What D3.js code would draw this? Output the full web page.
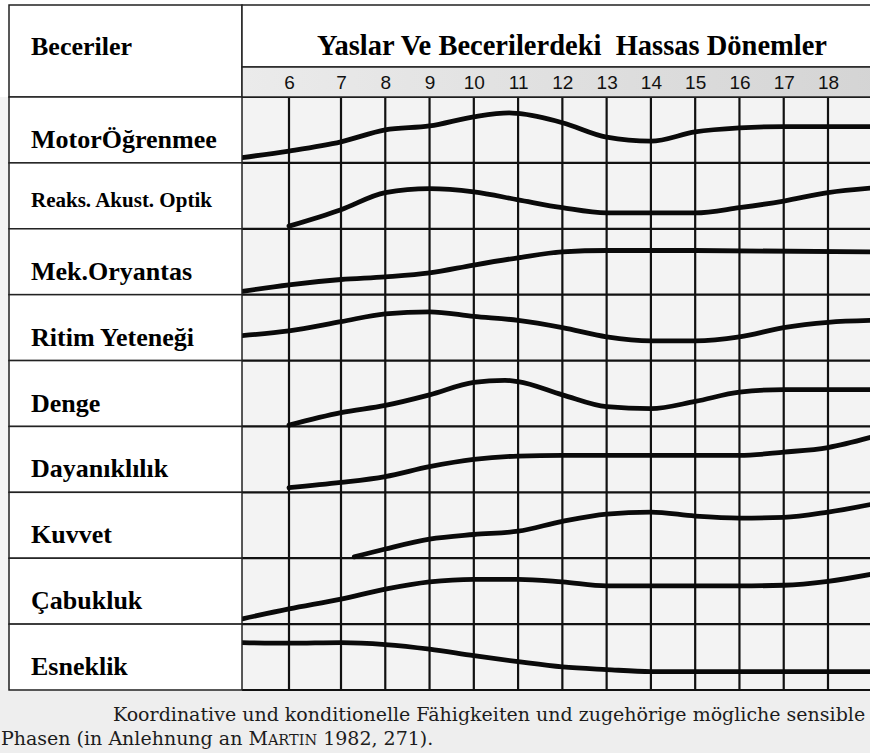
<!DOCTYPE html>
<html>
<head>
<meta charset="utf-8">
<script src="https://d3js.org/d3.v7.min.js"></script>
<style>
  body { margin: 0; background: #fff; }
  svg { display: block; }
</style>
</head>
<body>
<script>
  // ages on the header row
  var ages = [6, 7, 8, 9, 10, 11, 12, 13, 14, 15, 16, 17, 18];

  var skills = ["MotorÖğrenmee", "Reaks. Akust. Optik", "Mek.Oryantas", "Ritim Yeteneği",
    "Denge", "Dayanıklılık", "Kuvvet", "Çabukluk", "Esneklik"];

  // [age, level inside the row (0 = bottom, 1 = top)]
  var motorOgrenme = [[5.1, 0.08], [6, 0.18], [7, 0.32], [8, 0.50], [9, 0.56], [10, 0.70], [10.8, 0.76], [11, 0.75],
    [12, 0.61], [13, 0.39], [14, 0.33], [15, 0.47], [16, 0.53], [17, 0.55], [19, 0.55]];
  var reaksiyon = [[6, 0.04], [7, 0.29], [8, 0.55], [9, 0.61], [10, 0.56], [11, 0.44], [12, 0.32], [13, 0.24],
    [14, 0.24], [15, 0.24], [16, 0.32], [17, 0.42], [18, 0.55], [19, 0.62]];
  var oryantasyon = [[5.1, 0.05], [6, 0.15], [7, 0.23], [8, 0.27], [9, 0.33], [10, 0.45], [11, 0.56], [12, 0.65],
    [13, 0.67], [15, 0.67], [19, 0.65]];
  var ritim = [[5.1, 0.38], [6, 0.45], [7, 0.59], [8, 0.71], [9, 0.74], [10, 0.67], [11, 0.61], [12, 0.50],
    [13, 0.36], [14, 0.30], [15, 0.30], [16, 0.36], [17, 0.50], [18, 0.58], [19, 0.61]];
  var denge = [[6, 0.02], [7, 0.21], [8, 0.32], [9, 0.48], [10, 0.67], [10.7, 0.70], [11, 0.68], [12, 0.48],
    [13, 0.30], [14, 0.27], [15, 0.38], [16, 0.52], [17, 0.56], [19, 0.56]];
  var dayaniklilik = [[6, 0.07], [7, 0.15], [8, 0.24], [9, 0.39], [10, 0.50], [11, 0.55], [12, 0.56], [16, 0.56],
    [17, 0.61], [18, 0.68], [19, 0.84]];
  var kuvvet = [[7.3, 0.02], [8, 0.14], [9, 0.29], [10, 0.36], [11, 0.41], [12, 0.56], [13, 0.67], [14, 0.70],
    [15, 0.64], [16, 0.61], [17, 0.62], [18, 0.70], [19, 0.82]];
  var cabukluk = [[5.1, 0.08], [6, 0.23], [7, 0.38], [8, 0.53], [9, 0.64], [10, 0.68], [11, 0.68], [12, 0.64],
    [13, 0.58], [16, 0.58], [17, 0.59], [18, 0.65], [19, 0.76]];
  var esneklik = [[5.1, 0.72], [6, 0.71], [7, 0.72], [8, 0.69], [9, 0.62], [10, 0.52], [11, 0.43], [12, 0.35],
    [13, 0.31], [14, 0.28], [19, 0.28]];

  var curves = [motorOgrenme, reaksiyon, oryantasyon, ritim, denge, dayaniklilik, kuvvet, cabukluk, esneklik];

  var titleText = "Yaslar Ve Becerilerdeki  Hassas Dönemler";
  var captionLine1 = "Koordinative und konditionelle Fähigkeiten und zugehörige mögliche sensible";

  var width = 870, height = 753;
  var serif = "'Liberation Serif', 'Times New Roman', serif";

  var svg = d3.select("body").append("svg")
    .attr("width", width)
    .attr("height", height);

  var x = d3.scaleLinear().domain([6, 7, 18]).range([289, 341, 828]);
  var y = d3.scaleBand().domain(skills).range([97, 690]);
  var level = d3.scaleLinear().domain([0, 1]).range([y.bandwidth(), 0]);

  var defs = svg.append("defs");
  var grad = defs.append("linearGradient").attr("id", "hdr");
  grad.append("stop").attr("offset", "0%").attr("stop-color", "#ebebeb");
  grad.append("stop").attr("offset", "100%").attr("stop-color", "#d4d4d4");

  // backgrounds
  svg.append("rect").attr("x", 0).attr("y", 97).attr("width", width).attr("height", 593).attr("fill", "#f3f3f3");
  svg.append("rect").attr("x", 0).attr("y", 690).attr("width", width).attr("height", 63).attr("fill", "#eeeeee");

  // grid
  var grid = svg.append("g").attr("stroke", "#111").attr("stroke-width", 2.2);
  grid.selectAll("line.v").data(ages).enter().append("line")
    .attr("x1", function (d) { return x(d); })
    .attr("x2", function (d) { return x(d); })
    .attr("y1", 97).attr("y2", 690);
  grid.selectAll("line.h").data(skills.concat(["end"])).enter().append("line")
    .attr("x1", 242).attr("x2", width)
    .attr("y1", function (d, i) { return i < skills.length ? y(d) : 690; })
    .attr("y2", function (d, i) { return i < skills.length ? y(d) : 690; });

  // curves
  var line = d3.line().curve(d3.curveMonotoneX);
  svg.append("g").selectAll("path")
    .data(curves)
    .enter()
    .append("path")
    .attr("d", function (d, i) {
      var top = y(skills[i]);
      return line(d.map(function (p) { return [x(p[0]), top + level(p[1])]; }));
    })
    .attr("fill", "none")
    .attr("stroke", "#0a0a0a")
    .attr("stroke-width", 4.8)
    .attr("stroke-linecap", "round");

  // header
  svg.append("rect").attr("x", 9).attr("y", 5).attr("width", 233).attr("height", 92)
    .attr("fill", "#fff").attr("stroke", "#222").attr("stroke-width", 1.5);
  svg.append("rect").attr("x", 242).attr("y", 5).attr("width", 640).attr("height", 62)
    .attr("fill", "#fff").attr("stroke", "#222").attr("stroke-width", 1.5);
  svg.append("rect").attr("x", 242).attr("y", 67).attr("width", 640).attr("height", 30)
    .attr("fill", "url(#hdr)").attr("stroke", "#222").attr("stroke-width", 1.5);

  svg.append("text").attr("x", 31).attr("y", 55).text("Beceriler")
    .style("font-family", serif).style("font-weight", "bold").style("font-size", "26px");
  svg.append("text").attr("x", 572).attr("y", 55).text(titleText)
    .style("font-family", serif).style("font-weight", "bold").style("font-size", "28.5px")
    .style("white-space", "pre").style("text-anchor", "middle");

  var axis = svg.append("g")
    .attr("transform", "translate(0,75)")
    .call(d3.axisBottom(x).tickValues(ages).tickSize(0).tickPadding(0));
  axis.select(".domain").remove();
  axis.selectAll("text")
    .style("font-family", "'Liberation Sans Narrow', 'Liberation Sans', Arial, sans-serif")
    .style("font-size", "19px")
    .attr("fill", "#111");

  // skill label boxes
  var rows = svg.append("g").selectAll("g").data(skills).enter().append("g")
    .attr("transform", function (d) { return "translate(9," + y(d) + ")"; });
  rows.append("rect")
    .attr("width", 233).attr("height", y.bandwidth())
    .attr("fill", "#fff").attr("stroke", "#222").attr("stroke-width", 1.5);
  rows.append("text")
    .attr("x", 22)
    .attr("y", function (d, i) { return i === 1 ? 44 : 51; })
    .text(function (d) { return d; })
    .style("font-family", serif).style("font-weight", "bold")
    .style("font-size", function (d, i) { return i === 1 ? "21px" : "26px"; });

  // caption
  var cap = svg.append("g")
    .style("font-family", "'DejaVu Serif', serif")
    .style("font-size", "19px")
    .attr("fill", "#1c1c1c");
  cap.append("text").attr("x", 113).attr("y", 721).text(captionLine1);
  var l2 = cap.append("text").attr("x", 1).attr("y", 745);
  l2.append("tspan").text("Phasen (in Anlehnung an M");
  l2.append("tspan").style("font-size", "14.5px").text("ARTIN");
  l2.append("tspan").text(" 1982, 271).");
</script>
</body>
</html>
